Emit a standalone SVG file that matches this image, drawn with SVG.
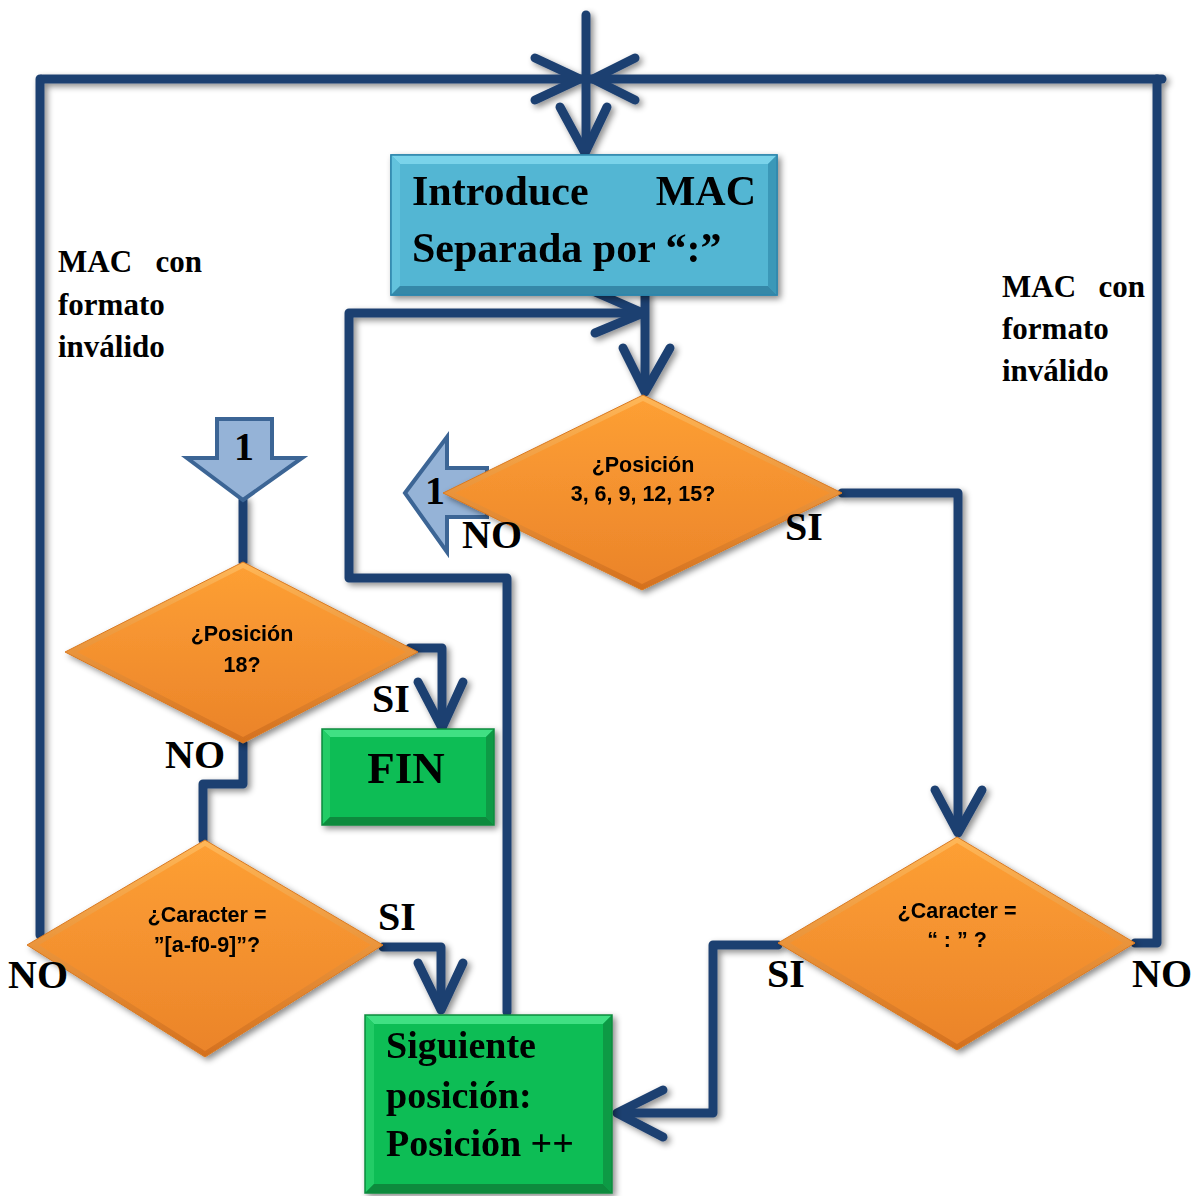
<svg xmlns="http://www.w3.org/2000/svg" width="1197" height="1196" viewBox="0 0 1197 1196">
<defs>
<filter id="sh" filterUnits="userSpaceOnUse" x="0" y="0" width="1197" height="1196"><feDropShadow dx="3" dy="3" stdDeviation="3" flood-color="#000" flood-opacity="0.45"/></filter>
<linearGradient id="dOut" x1="0" y1="0" x2="0" y2="1"><stop offset="0" stop-color="#ffb757"/><stop offset="1" stop-color="#d4701e"/></linearGradient>
<linearGradient id="dIn" x1="0" y1="0" x2="0" y2="1"><stop offset="0" stop-color="#fd9f34"/><stop offset="1" stop-color="#eb842a"/></linearGradient>
</defs>
<style>
.c{fill:none;stroke:#1e4071;stroke-width:9;stroke-linecap:round;stroke-linejoin:round}
.ser{font-family:"Liberation Serif","Times New Roman",serif;font-weight:bold;fill:#000}
.san{font-family:"Liberation Sans",Arial,sans-serif;font-weight:bold;fill:#000;font-size:21.5px;text-anchor:middle}
.ba{fill:#95b3d7;stroke:#3c6595;stroke-width:4}
.bt{fill:#7ad3ea}.bl{fill:#63c3dd}.br{fill:#3a98b8}.bb{fill:#3488a8}.bm{fill:#52b6d3}
.gt{fill:#40e083}.gl{fill:#22cc66}.gr{fill:#0a9a45}.gb{fill:#088a3d}.gm{fill:#0bbd55}
</style>

<g id="connectors" filter="url(#sh)">
<path class="c" d="M586,15 V150"/>
<path class="c" d="M42,79 H1162"/>
<path class="c" d="M535,58 L580,79 L535,100"/>
<path class="c" d="M635,58 L593,79 L635,100"/>
<path class="c" d="M560,107 L585,153 L607,107"/>
<path class="c" d="M645,295 V390"/>
<path class="c" d="M623,348 L645,392 L670,348"/>
<path class="c" d="M507,1012 V578 H349 V313 H640"/>
<path class="c" d="M595,292 L643,313 L595,333"/>
<path class="c" d="M842,493 H958 V830"/>
<path class="c" d="M935,790 L958,833 L982,790"/>
<path class="c" d="M1135,943 H1157 V79"/>
<path class="c" d="M778,945 H713 V1113 H620"/>
<path class="c" d="M663,1090 L617,1113 L663,1137"/>
<path class="c" d="M40,79 V935"/>
<path class="c" d="M243,500 V562"/>
<path class="c" d="M410,648 H442 V725"/>
<path class="c" d="M418,682 L442,728 L463,682"/>
<path class="c" d="M243,743 V784 H203 V840"/>
<path class="c" d="M383,947 H441 V1005"/>
<path class="c" d="M418,963 L441,1010 L463,963"/>
</g>

<g id="n_introduce" filter="url(#sh)">
<rect x="391" y="155" width="386" height="140" fill="#52b6d3" stroke="#2e86ad" stroke-width="1.5"/>
<polygon class="bt" points="391,155 777,155 768,164 400,164"/>
<polygon class="bl" points="391,155 400,164 400,286 391,295"/>
<polygon class="br" points="777,155 777,295 768,286 768,164"/>
<polygon class="bb" points="391,295 777,295 768,286 400,286"/>
<rect class="bm" x="400" y="164" width="368" height="122"/>
<rect x="391" y="155" width="386" height="140" fill="none" stroke="#2e86ad" stroke-width="1.5"/>
<text class="ser" font-size="42" x="412" y="205">Introduce</text>
<text class="ser" font-size="42" x="756" y="205" text-anchor="end">MAC</text>
<text class="ser" font-size="42" x="412" y="262">Separada por “:”</text>
</g>

<g id="n_conector1_out">
<polygon class="ba" points="405,493 447,437 447,468 487,468 487,517 447,517 447,552"/>
<text class="ser" font-size="40" x="435" y="504" text-anchor="middle">1</text>
</g>

<g id="n_pos3" filter="url(#sh)">
<polygon points="643,395 842,493 642,590 443,493" fill="url(#dOut)" stroke="#d97a22" stroke-width="1"/>
<polygon points="643,401 830,493 642,584 455,493" fill="url(#dIn)"/>
<text class="san" x="643" y="472">¿Posición</text>
<text class="san" x="643" y="501">3, 6, 9, 12, 15?</text>
</g>

<g id="n_conector1_in">
<polygon class="ba" points="217,419 272,419 272,458 302,458 243,500 187,458 217,458"/>
<text class="ser" font-size="40" x="244" y="460" text-anchor="middle">1</text>
</g>

<g id="n_pos18" filter="url(#sh)">
<polygon points="243,562 418,652 243,743 65,652" fill="url(#dOut)" stroke="#d97a22" stroke-width="1"/>
<polygon points="243,568 406,652 243,737 77,652" fill="url(#dIn)"/>
<text class="san" x="242" y="641">¿Posición</text>
<text class="san" x="242" y="672">18?</text>
</g>

<g id="n_fin" filter="url(#sh)">
<rect x="322" y="729" width="172" height="96" fill="#0bbd55"/>
<polygon class="gt" points="322,729 494,729 486,737 330,737"/>
<polygon class="gl" points="322,729 330,737 330,817 322,825"/>
<polygon class="gr" points="494,729 494,825 486,817 486,737"/>
<polygon class="gb" points="322,825 494,825 486,817 330,817"/>
<rect class="gm" x="330" y="737" width="156" height="80"/>
<rect x="322" y="729" width="172" height="96" fill="none" stroke="#0a8a3e" stroke-width="1.5"/>
<text class="ser" font-size="45" x="406" y="783" text-anchor="middle">FIN</text>
</g>

<g id="n_car_hex" filter="url(#sh)">
<polygon points="205,840 383,945 205,1057 27,945" fill="url(#dOut)" stroke="#d97a22" stroke-width="1"/>
<polygon points="205,846 371,945 205,1051 39,945" fill="url(#dIn)"/>
<text class="san" x="207" y="922">¿Caracter =</text>
<text class="san" x="207" y="952">”[a-f0-9]”?</text>
</g>

<g id="n_siguiente" filter="url(#sh)">
<rect x="365" y="1015" width="247" height="178" fill="#0bbd55"/>
<polygon class="gt" points="365,1015 612,1015 603,1024 374,1024"/>
<polygon class="gl" points="365,1015 374,1024 374,1184 365,1193"/>
<polygon class="gr" points="612,1015 612,1193 603,1184 603,1024"/>
<polygon class="gb" points="365,1193 612,1193 603,1184 374,1184"/>
<rect class="gm" x="374" y="1024" width="229" height="160"/>
<rect x="365" y="1015" width="247" height="178" fill="none" stroke="#0a8a3e" stroke-width="1.5"/>
<text class="ser" font-size="38" x="386" y="1058">Siguiente</text>
<text class="ser" font-size="38" x="386" y="1108">posición:</text>
<text class="ser" font-size="38" x="386" y="1156">Posición ++</text>
</g>

<g id="n_car_colon" filter="url(#sh)">
<polygon points="957,837 1135,943 957,1050 778,943" fill="url(#dOut)" stroke="#d97a22" stroke-width="1"/>
<polygon points="957,843 1123,943 957,1044 790,943" fill="url(#dIn)"/>
<text class="san" x="957" y="918">¿Caracter =</text>
<text class="san" x="957" y="947">“ : ” ?</text>
</g>

<g id="labels">
<text class="ser" font-size="31" x="58" y="272">MAC</text>
<text class="ser" font-size="31" x="202" y="272" text-anchor="end">con</text>
<text class="ser" font-size="31" x="58" y="315">formato</text>
<text class="ser" font-size="31" x="58" y="357">inválido</text>
<text class="ser" font-size="31" x="1002" y="297">MAC</text>
<text class="ser" font-size="31" x="1145" y="297" text-anchor="end">con</text>
<text class="ser" font-size="31" x="1002" y="339">formato</text>
<text class="ser" font-size="31" x="1002" y="381">inválido</text>
<text class="ser" font-size="40" x="462" y="548">NO</text>
<text class="ser" font-size="40" x="785" y="540">SI</text>
<text class="ser" font-size="40" x="372" y="712">SI</text>
<text class="ser" font-size="40" x="165" y="768">NO</text>
<text class="ser" font-size="40" x="378" y="930">SI</text>
<text class="ser" font-size="40" x="8" y="988">NO</text>
<text class="ser" font-size="40" x="767" y="987">SI</text>
<text class="ser" font-size="40" x="1132" y="987">NO</text>
</g>
</svg>
